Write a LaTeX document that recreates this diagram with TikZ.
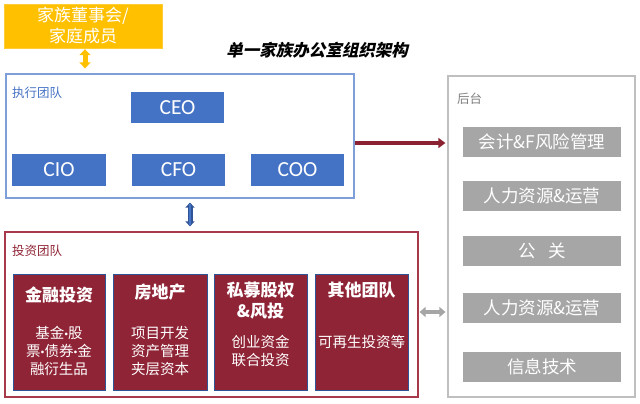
\documentclass[tikz,border=0pt]{standalone}
\usepackage{fontspec}
\setmainfont{Carlito}
\newfontfamily\cjk{Noto Sans CJK SC}
\newfontfamily\cjkslant{Noto Sans CJK SC}[FakeSlant=0.22]
\newfontfamily\latdot{Carlito}
\newcommand{\mdot}{{\latdot\bfseries·}}
\usetikzlibrary{arrows.meta}
\definecolor{famY}{HTML}{FFC000}
\definecolor{boxB}{HTML}{4472C4}
\definecolor{execBorder}{HTML}{7F9FD9}
\definecolor{invR}{HTML}{8F2436}
\definecolor{invBorder}{HTML}{A8394B}
\definecolor{subBorder}{HTML}{2F5597}
\definecolor{grayItem}{HTML}{A6A6A6}
\definecolor{backBorder}{HTML}{BFBFBF}
\definecolor{arrowR}{HTML}{8B2232}
\definecolor{arrowG}{HTML}{A6A6A6}
\tikzset{
  x=1pt, y=-1pt,
  famnode/.style={fill=famY, draw=famY!80!white, text=white, align=center, inner sep=0pt,
    minimum width=158pt, minimum height=44pt, font=\cjk\fontsize{17}{21}\selectfont},
  group/.style={draw, line width=1.2pt, fill=white, inner sep=0pt},
  execbox/.style={fill=boxB, text=white, inner sep=0pt, minimum height=32pt,
    font=\fontsize{21.5}{24}\selectfont},
  invbox/.style={fill=invR, draw=subBorder, line width=0.8pt, inner sep=0pt,
    minimum height=116pt},
  invtitle/.style={text=white, align=center, inner sep=0pt, font=\cjk\bfseries\fontsize{17}{21}\selectfont},
  invbody/.style={text=white, align=center, inner sep=0pt, font=\cjk\fontsize{14.5}{18}\selectfont},
  backitem/.style={fill=grayItem, text=white, inner sep=0pt, minimum width=158pt,
    minimum height=30pt, font=\cjk\fontsize{17.5}{20}\selectfont},
  grplabel/.style={anchor=west, inner sep=0pt, font=\cjk\fontsize{12.5}{15}\selectfont}
}
\begin{document}
\begin{tikzpicture}
\useasboundingbox (0,0) rectangle (640,404);
% family board
\node[famnode] (fam) at (83,26) {家族董事会/\\家庭成员};
\node[font=\cjkslant\bfseries\fontsize{16.5}{20}\selectfont, inner sep=0pt] (title) at (317,50) {单一家族办公室组织架构};
% executive team
\node[group, draw=execBorder, minimum width=348pt, minimum height=124pt] (exec) at (180,136) {};
\node[grplabel, text=boxB] (execlab) at (12,93) {执行团队};
\node[execbox, minimum width=93pt, minimum height=31pt] (ceo) at (177.5,107.5) {CEO};
\node[execbox, minimum width=94pt] (cio) at (59,170) {CIO};
\node[execbox, minimum width=93pt] (cfo) at (178.5,170) {CFO};
\node[execbox, minimum width=93pt] (coo) at (297.5,170) {COO};
% investment team
\node[group, draw=invBorder, minimum width=413pt, minimum height=165pt] (inv) at (211.5,314.5) {};
\node[grplabel, text=invR] (invlab) at (12,251) {投资团队};
\node[invbox, minimum width=92pt] (fin) at (59,332) {};
\node[invbox, minimum width=94pt] (re) at (160,332) {};
\node[invbox, minimum width=93pt] (pe) at (260.5,332) {};
\node[invbox, minimum width=93pt] (oth) at (361.5,332) {};
\node[invtitle] (fint) at (59,295) {金融投资};
\node[invbody] (finb) at (59,351) {基金\mdot 股\\票\mdot 债券\mdot 金\\融衍生品};
\node[invtitle] (ret) at (160,292) {房地产};
\node[invbody] (reb) at (160,351) {项目开发\\资产管理\\夹层资本};
\node[invtitle] (pet) at (260.5,300.5) {私募股权\\\&风投};
\node[invbody] (peb) at (260.5,351) {创业资金\\联合投资};
\node[invtitle] (otht) at (361.5,290) {其他团队};
\node[invbody] (othb) at (361.5,342) {可再生投资等};
% back office
\node[group, draw=backBorder, minimum width=187pt, minimum height=321pt] (back) at (541.5,236.5) {};
\node[grplabel, text=gray] (backlab) at (457,99) {后台};
\node[backitem] (b1) at (542,142) {会计\&F风险管理};
\node[backitem] (b2) at (542,196) {人力资源\&运营};
\node[backitem] (b3) at (542,250.5) {公\hspace{0.7em}关};
\node[backitem] (b4) at (542,308) {人力资源\&运营};
\node[backitem] (b5) at (542,366.5) {信息技术};
% connectors
\draw[famY, line width=5pt, {Triangle[width=11pt,length=6pt]}-{Triangle[width=11pt,length=6pt]},
  shorten <=1pt, shorten >=5pt] ([xshift=2pt]fam.south) -- ([xshift=2pt]fam.south |- exec.north);
\draw[subBorder, line width=5pt, {Triangle[width=9pt,length=5pt]}-{Triangle[width=9pt,length=5pt]},
  shorten <=4pt, shorten >=5pt] ([xshift=10pt]exec.south) -- ([xshift=10pt]exec.south |- inv.north);
\draw[boxB, line width=2.6pt, shorten <=5.5pt, shorten >=6.5pt] ([xshift=10pt]exec.south) -- ([xshift=10pt]exec.south |- inv.north);
\draw[arrowR, line width=4pt, -{Triangle[width=10pt,length=7pt]}, shorten >=2pt]
  ([yshift=-7pt]exec.east) -- ([yshift=-7pt]exec.east -| back.west);
\draw[arrowG, line width=4pt, {Triangle[width=10pt,length=6pt]}-{Triangle[width=10pt,length=6pt]},
  shorten <=1pt, shorten >=2pt] ([yshift=2.5pt]inv.east) -- ([yshift=2.5pt]inv.east -| back.west);
\end{tikzpicture}
\end{document}
